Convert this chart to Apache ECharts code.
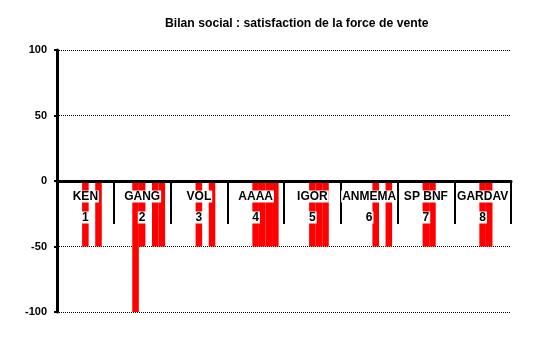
<!DOCTYPE html>
<html>
<head>
<meta charset="utf-8">
<script src="https://cdn.jsdelivr.net/npm/echarts@6/dist/echarts.min.js"></script>
<style>html,body{margin:0;padding:0;background:#fff}#c{width:551px;height:345px}</style>
</head>
<body>
<div id="c"></div>
<script>
var titleText = 'Bilan social : satisfaction de la force de vente';
var categories = ['KEN', 'GANG', 'VOL', 'AAAA', 'IGOR', 'ANMEMA', 'SP BNF', 'GARDAV'];
var groupNumbers = ['1', '2', '3', '4', '5', '6', '7', '8'];
var yTicks = [-100, -50, 0, 50, 100];
var serie1 = [0, 0, 0, 0, 0, 0, 0, 0];
var serie2 = [0, 0, 0, 0, 0, 0, 0, 0];
var serie3 = [0, -100, 0, 0, 0, 0, 0, 0];
var serie4 = [-50, -50, -50, -50, -50, 0, -50, -50];
var serie5 = [0, 0, 0, -50, -50, -50, -50, -50];
var serie6 = [-50, -50, -50, -50, -50, 0, 0, 0];
var serie7 = [0, -50, 0, -50, 0, -50, 0, 0];

var allSeries = [serie1, serie2, serie3, serie4, serie5, serie6, serie7];
var FONT = "Arial, 'Liberation Sans', sans-serif";

var chart = echarts.init(document.getElementById('c'), null, {renderer: 'canvas'});
var option = {
  backgroundColor: '#fff',
  animation: false,
  title: {
    text: titleText,
    left: 165,
    top: 18,
    padding: 0,
    textStyle: {fontFamily: FONT, fontWeight: 'bold', fontSize: 12.2, color: '#000'}
  },
  grid: {left: 57, right: 40, top: 50, bottom: 33, containLabel: false, outerBoundsMode: 'none'},
  xAxis: {
    type: 'category',
    data: categories,
    z: 5,
    axisLine: {onZero: true, lineStyle: {color: '#000', width: 3}},
    axisTick: {show: true, length: 43, lineStyle: {color: '#000', width: 2}},
    splitLine: {show: false},
    axisLabel: {
      interval: 0,
      margin: -121.5,
      hideOverlap: false,
      formatter: function (v, i) {
        return '{n|' + v + '}\n{sp| }\n{i|' + groupNumbers[i] + '}';
      },
      rich: {
        n: {fontFamily: FONT, fontWeight: 'bold', fontSize: 12, color: '#000', backgroundColor: '#fff', lineHeight: 12, padding: [0, 1]},
        sp: {fontSize: 8, lineHeight: 9.5},
        i: {fontFamily: FONT, fontWeight: 'bold', fontSize: 12, color: '#000', backgroundColor: '#fff', lineHeight: 11, padding: [0, 1]}
      }
    }
  },
  yAxis: {
    type: 'value',
    min: yTicks[0],
    max: yTicks[yTicks.length - 1],
    interval: 50,
    axisLine: {show: true, lineStyle: {color: '#000', width: 3}},
    axisTick: {show: true, length: 3, lineStyle: {color: '#000', width: 2}},
    splitLine: {show: true, lineStyle: {color: '#000', width: 1, type: [1, 1]}},
    axisLabel: {fontFamily: FONT, fontWeight: 'bold', fontSize: 11, color: '#000', margin: 10}
  },
  series: allSeries.map(function (d, k) {
    return {
      type: 'bar',
      name: 'S' + (k + 1),
      data: d,
      barGap: 0,
      barCategoryGap: '19%',
      itemStyle: {color: '#ff0000'},
      z: 2
    };
  })
};
chart.setOption(option);
</script>
</body>
</html>
